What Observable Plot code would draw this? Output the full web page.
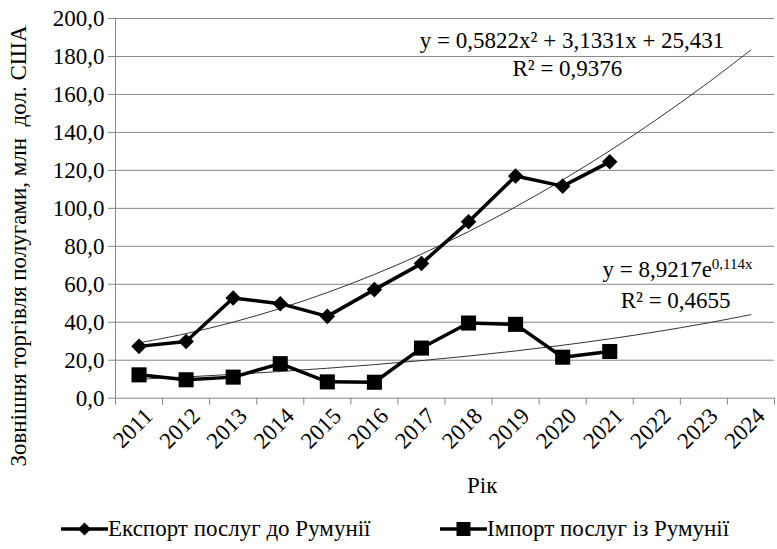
<!DOCTYPE html>
<html>
<head>
<meta charset="utf-8">
<script src="https://cdn.jsdelivr.net/npm/d3@7"></script>
<script src="https://cdn.jsdelivr.net/npm/@observablehq/plot@0.6"></script>
<style>
  html body, html body *, svg text, svg tspan { font-family: 'Liberation Serif', 'Times New Roman', serif !important; }
  body { margin: 0; background: #fff; font-size: 23px; }
  #legend { position: relative; height: 49px; width: 777px; color: #000; }
  .item { position: absolute; top: 14px; white-space: nowrap; }
  .item svg { display: inline-block; vertical-align: middle; }
  .item span { vertical-align: middle; }
</style>
</head>
<body>
<div id="chart"></div>
<div id="legend"></div>
<script>
// ---- data ----
const years = [2011, 2012, 2013, 2014, 2015, 2016, 2017, 2018, 2019, 2020, 2021];
const axisYears = [2011, 2012, 2013, 2014, 2015, 2016, 2017, 2018, 2019, 2020, 2021, 2022, 2023, 2024];
const exportValues = [27.3, 29.9, 52.8, 49.8, 43.1, 57.2, 70.9, 92.9, 117.0, 111.7, 124.5];
const importValues = [12.3, 9.7, 11.1, 18.2, 8.6, 8.4, 26.4, 39.6, 38.9, 21.6, 24.6];
const yTicks = [0, 20, 40, 60, 80, 100, 120, 140, 160, 180, 200];
const seriesNames = ["Експорт послуг до Румунії", "Імпорт послуг із Румунії"];
const yTitle = "Зовнішня торгівля полугами, млн  дол. США";
const xTitle = "Рік";
// trend equations as printed on the chart (x = 1 for 2011)
const polyCoef = { a: 0.5822, b: 3.1331, c: 25.431, label: "y = 0,5822x² + 3,1331x + 25,431", r2: "R² = 0,9376" };
const expCoef = { k: 8.9217, m: 0.114, base: "y = 8,9217e", power: "0,114x", r2: "R² = 0,4655" };

const exportData = years.map((yr, i) => ({ year: yr, value: exportValues[i] }));
const importData = years.map((yr, i) => ({ year: yr, value: importValues[i] }));
const polyTrend = axisYears.map((yr, i) => { const t = i + 1; return { year: yr, value: polyCoef.a * t * t + polyCoef.b * t + polyCoef.c }; });
const expTrend = axisYears.map((yr, i) => { const t = i + 1; return { year: yr, value: expCoef.k * Math.exp(expCoef.m * t) }; });
const bounds = [axisYears[0] - 0.5, ...axisYears.map(d => d + 0.5)];

const FONT = "'Liberation Serif', 'Times New Roman', serif";
const fmt = d => d.toFixed(1).replace(".", ",");
const H = 500;
const gridColor = "#878787";

const chart = Plot.plot({
  width: 777,
  height: H,
  marginLeft: 115,
  marginRight: 3,
  marginTop: 18,
  marginBottom: H - 397.7,
  style: { fontFamily: FONT, fontSize: "23px", color: "#000", background: "#fff", overflow: "visible" },
  x: { domain: [bounds[0], bounds[bounds.length - 1]], axis: null },
  y: { domain: [0, 200], axis: null },
  marks: [
    Plot.gridY(yTicks, { stroke: gridColor, strokeOpacity: 1, strokeWidth: 1 }),
    Plot.ruleX([bounds[0]], { stroke: gridColor }),
    Plot.axisY(yTicks, { label: null, tickSize: 7, tickPadding: 4, tickFormat: fmt, stroke: gridColor, fill: "#000" }),
    Plot.axisX(bounds, { label: null, tickSize: 7, tickFormat: () => "", stroke: gridColor }),
    Plot.axisX(axisYears, { label: null, tickSize: 0, tickPadding: 14, tickRotate: -45, tickFormat: d => String(d), fill: "#000", dx: 10 }),
    // trend lines
    Plot.line(polyTrend, { x: "year", y: "value", curve: "catmull-rom", stroke: "#333", strokeWidth: 1 }),
    Plot.line(expTrend, { x: "year", y: "value", curve: "catmull-rom", stroke: "#333", strokeWidth: 1 }),
    // series
    Plot.line(exportData, { x: "year", y: "value", stroke: "#000", strokeWidth: 3.5 }),
    Plot.dot(exportData, { x: "year", y: "value", symbol: "diamond2", r: 7, fill: "#000", stroke: "none" }),
    Plot.line(importData, { x: "year", y: "value", stroke: "#000", strokeWidth: 3.5 }),
    Plot.dot(importData, { x: "year", y: "value", symbol: "square", r: 8.5, fill: "#000", stroke: "none" }),
    // equations
    Plot.text([polyCoef.label], { x: () => 2020.2, y: () => 188.3, textAnchor: "middle" }),
    Plot.text([polyCoef.r2], { x: () => 2020.1, y: () => 173.6, textAnchor: "middle" }),
    Plot.text([expCoef.r2], { x: () => 2022.4, y: () => 51.5, textAnchor: "middle" })
  ]
});
document.getElementById("chart").appendChild(chart);

{
  const svg = d3.select(chart);
  const xs = d3.scaleLinear().domain([bounds[0], bounds[bounds.length - 1]]).range([115, 774]);
  const ys = d3.scaleLinear().domain([0, 200]).range([397.7, 18]);
  // exponential equation with a real superscript
  const t = svg.append("text")
    .attr("x", xs(2022.45)).attr("y", ys(67.3)).attr("dy", "0.32em")
    .attr("text-anchor", "middle").attr("fill", "#000");
  t.append("tspan").text(expCoef.base);
  t.append("tspan").attr("font-size", 15).attr("dy", "-0.55em").text(expCoef.power);
  // axis titles
  svg.append("text").attr("x", xs(2018.3)).attr("y", 493).attr("text-anchor", "middle")
    .attr("fill", "#000").text(xTitle);
  svg.append("text").attr("transform", "translate(26,246) rotate(-90)").attr("text-anchor", "middle")
    .attr("fill", "#000").text(yTitle);
  svg.attr("font-family", FONT);
}

// legend
{
  const lg = document.getElementById("legend");
  const items = [
    { name: seriesNames[0], left: 61, sym: "diamond" },
    { name: seriesNames[1], left: 440, sym: "square" }
  ];
  for (const it of items) {
    const div = document.createElement("div");
    div.className = "item";
    div.style.left = it.left + "px";
    const s = d3.create("svg").attr("width", 47).attr("height", 20);
    s.append("line").attr("x1", 0).attr("x2", 47).attr("y1", 10).attr("y2", 10).attr("stroke", "#000").attr("stroke-width", 3.5);
    if (it.sym === "diamond") s.append("path").attr("d", "M23.5,3.5L30,10L23.5,16.5L17,10Z").attr("fill", "#000");
    else s.append("rect").attr("x", 16.5).attr("y", 3).attr("width", 14).attr("height", 14).attr("fill", "#000");
    div.appendChild(s.node());
    const span = document.createElement("span");
    span.textContent = it.name;
    div.appendChild(span);
    lg.appendChild(div);
  }
}
</script>
</body>
</html>
